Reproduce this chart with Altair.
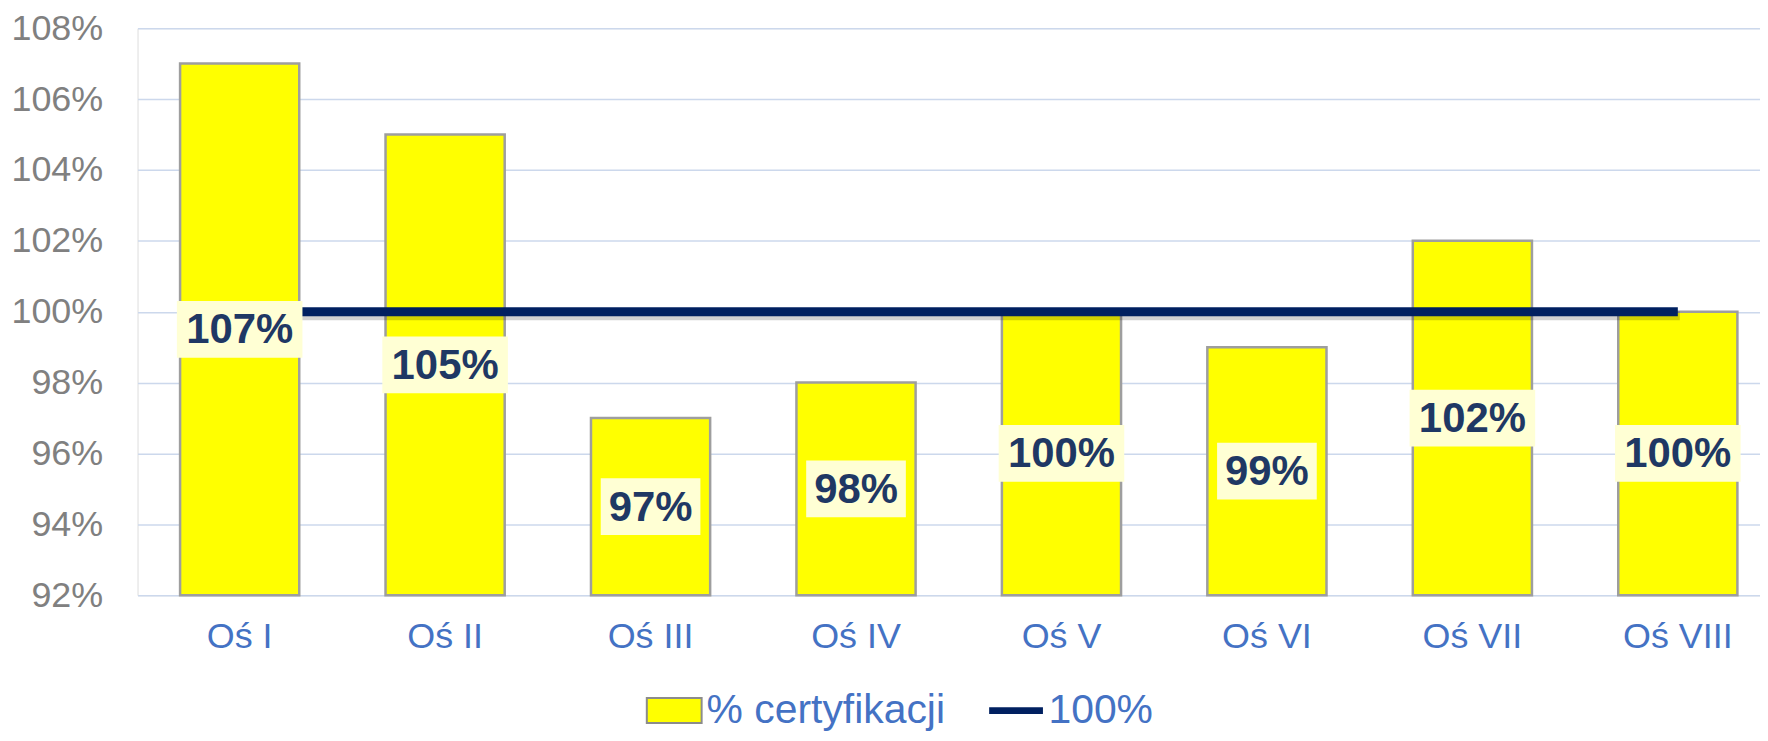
import altair as alt
import pandas as pd

categories = ["Oś I", "Oś II", "Oś III", "Oś IV", "Oś V", "Oś VI", "Oś VII", "Oś VIII"]
certification = [1.07, 1.05, 0.97, 0.98, 1.00, 0.99, 1.02, 1.00]
target = [1.00, 1.00, 1.00, 1.00, 1.00, 1.00, 1.00, 1.00]
y_ticks = [0.92, 0.94, 0.96, 0.98, 1.00, 1.02, 1.04, 1.06, 1.08]
series_names = ["% certyfikacji", "100%"]
base_value = 0.92

FONT = "Liberation Sans"
YELLOW = "#FFFF00"
NAVY = "#002060"
BAR_EDGE = "#9E9E9E"

df = pd.DataFrame({
    "cat": categories,
    "value": certification,
    "target": target,
    "s_bar": series_names[0],
    "s_line": series_names[1],
})

x_enc = alt.X(
    "cat:N",
    sort=categories,
    title=None,
    scale=alt.Scale(range=[0, 1648], paddingInner=0.42, paddingOuter=0.207),
    axis=alt.Axis(
        labelFont=FONT, labelFontSize=36, labelColor="#4472C4",
        labelPadding=24, ticks=False, domain=False, grid=False, labelAngle=0,
    ),
)
x_plain = alt.X("cat:N", sort=categories)

y_scale = alt.Scale(domain=[0.92, 1.08], nice=False, zero=False)

base = alt.Chart(df)

# legend-only layer (hidden behind the bars)
legend = alt.Legend(
    title=None,
    orient="none",
    legendX=510,
    legendY=656,
    direction="horizontal",
    padding=0,
    labelFont=FONT,
    labelFontSize=41,
    labelColor="#4472C4",
    labelOffset=4,
    labelLimit=600,
    columnPadding=40,
    symbolSize=3025,
    symbolStrokeWidth=2,
    symbolOpacity=1,
)
legend_layer = base.transform_calculate(
    mid=f"(datum.value + {base_value}) / 2",
).transform_fold(["s_bar", "s_line"], as_=["k", "series"]).mark_point(
    filled=True, size=1500, opacity=1, strokeWidth=2,
).encode(
    x=x_enc,
    y=alt.Y("mid:Q", scale=y_scale),
    color=alt.Color("series:N", scale=alt.Scale(domain=series_names, range=[YELLOW, NAVY]), legend=legend),
    shape=alt.Shape("series:N", scale=alt.Scale(domain=series_names,
                    range=["M-1,-0.455H1V0.455H-1Z", "M-0.945,-0.085H0.945V0.085H-0.945Z"]), legend=legend),
    stroke=alt.Stroke("series:N", scale=alt.Scale(domain=series_names, range=["#8C8C8C", NAVY]), legend=legend),
)

bars = base.mark_bar(stroke=BAR_EDGE, strokeWidth=2.5, color=YELLOW).encode(
    x=x_enc,
    y=alt.Y(
        "value:Q",
        scale=y_scale,
        title=None,
        axis=alt.Axis(
            values=y_ticks, format=".0%", labelFont=FONT, labelFontSize=36,
            labelColor="#808080", labelPadding=35, ticks=False, domain=False,
            grid=True, gridColor="#CCD8EC", gridWidth=1.5,
        ),
    ),
    y2=alt.datum(base_value),
)

shadow = base.mark_line(color="#000000", opacity=0.18, strokeWidth=9, yOffset=4, xOffset=2).encode(
    x=x_plain,
    y=alt.Y("target:Q", scale=y_scale),
)

line = base.mark_line(strokeWidth=9, strokeCap="butt", color=NAVY).encode(
    x=x_plain,
    y=alt.Y("target:Q", scale=y_scale),
)

labeled = base.transform_calculate(
    mid=f"(datum.value + {base_value}) / 2",
    lbl="format(datum.value, '.0%')",
)

box_wide = labeled.transform_filter("length(datum.lbl) >= 4").mark_point(
    shape="M-1,-0.452H1V0.452H-1Z", size=126 * 126, filled=True,
    fill="#FFFFD4", opacity=1, strokeWidth=0,
).encode(
    x=x_plain,
    y=alt.Y("mid:Q", scale=y_scale),
)

box_narrow = labeled.transform_filter("length(datum.lbl) < 4").mark_point(
    shape="M-1,-0.57H1V0.57H-1Z", size=100 * 100, filled=True,
    fill="#FFFFD4", opacity=1, strokeWidth=0,
).encode(
    x=x_plain,
    y=alt.Y("mid:Q", scale=y_scale),
)

texts = labeled.mark_text(
    font=FONT, fontSize=42, fontWeight="bold", color="#1F3864",
    baseline="middle", align="center", dy=1,
).encode(
    x=x_plain,
    y=alt.Y("mid:Q", scale=y_scale),
    text="lbl:N",
)

chart = alt.layer(legend_layer, bars, shadow, line, box_wide, box_narrow, texts).properties(
    width=1628,
    height=569,
    autosize=alt.AutoSizeParams(type="none"),
    padding={"left": 130, "top": 19, "right": 0, "bottom": 137},
).configure_view(stroke=None).configure(background="white")

chart.save("out.html", embed_options={"renderer": "svg", "actions": False})
